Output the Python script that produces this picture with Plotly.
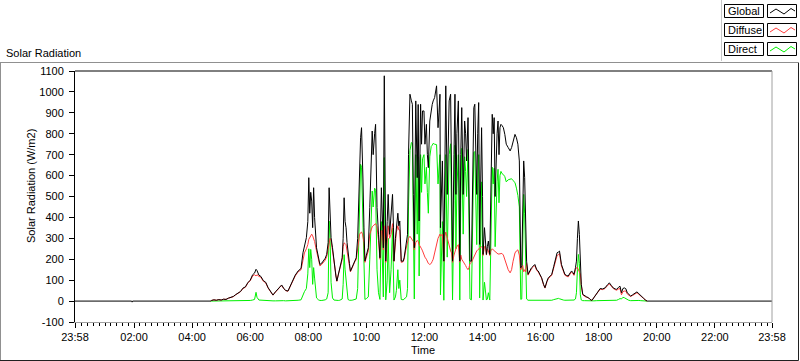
import plotly.graph_objects as go

PREV_DAY = "2023-12-31"
DAY = "2024-01-01"

# Night-time points of the Global trace (before sunrise)
night_times = ["23:58", "01:55", "01:56", "01:57"]
night_global = [0, 0, -5, 0]
end_time = "23:58"
end_global = 0

day_times = [
    "04:38", "04:40", "04:45", "04:50", "04:55", "05:00", "05:05", "05:10", "05:15", "05:20",
    "05:25", "05:30", "05:35", "05:40", "05:45", "05:50", "05:55", "06:00", "06:05", "06:09",
    "06:12", "06:14", "06:18", "06:22", "06:27", "06:32", "06:37", "06:42", "06:47", "06:52",
    "06:57", "07:02", "07:05", "07:09", "07:13", "07:18", "07:23", "07:28", "07:33", "07:39",
    "07:45", "07:49", "07:52", "07:56", "07:59", "08:01", "08:03", "08:05", "08:07", "08:09",
    "08:11", "08:13", "08:17", "08:21", "08:24", "08:28", "08:31", "08:35", "08:38", "08:41",
    "08:43", "08:45", "08:47", "08:50", "08:53", "08:55", "08:57", "08:59", "09:02", "09:05",
    "09:08", "09:10", "09:12", "09:14", "09:16", "09:18", "09:20", "09:22", "09:25", "09:27",
    "09:30", "09:32", "09:36", "09:39", "09:42", "09:44", "09:46", "09:48", "09:50", "09:52",
    "09:53", "09:55", "09:57", "10:00", "10:04", "10:07", "10:09", "10:12", "10:14", "10:15",
    "10:17", "10:19", "10:21", "10:22", "10:25", "10:28", "10:31", "10:33", "10:35", "10:37",
    "10:38", "10:40", "10:43", "10:45", "10:48", "10:51", "10:54", "10:56", "10:57", "11:00",
    "11:02", "11:05", "11:07", "11:09", "11:12", "11:16", "11:18", "11:21", "11:23", "11:25",
    "11:27", "11:30", "11:33", "11:35", "11:37", "11:39", "11:42", "11:45", "11:47", "11:49",
    "11:52", "11:54", "11:56", "11:59", "12:01", "12:04", "12:06", "12:08", "12:11", "12:14",
    "12:16", "12:18", "12:21", "12:25", "12:28", "12:30", "12:32", "12:33", "12:35", "12:37",
    "12:40", "12:42", "12:44", "12:47", "12:49", "12:51", "12:54", "12:56", "12:58", "13:01",
    "13:03", "13:05", "13:07", "13:10", "13:13", "13:15", "13:17", "13:20", "13:23", "13:25",
    "13:27", "13:30", "13:32", "13:34", "13:37", "13:40", "13:42", "13:44", "13:46", "13:48",
    "13:50", "13:52", "13:54", "13:56", "13:58", "14:00", "14:01", "14:04", "14:06", "14:08",
    "14:10", "14:12", "14:15", "14:17", "14:20", "14:22", "14:24", "14:26", "14:28", "14:30",
    "14:32", "14:34", "14:36", "14:38", "14:40", "14:43", "14:46", "14:49", "14:53", "14:57",
    "15:00", "15:03", "15:07", "15:10", "15:13", "15:16", "15:18", "15:19", "15:21", "15:23",
    "15:25", "15:27", "15:29", "15:31", "15:34", "15:38", "15:41", "15:45", "15:48", "15:52",
    "15:55", "15:59", "16:02", "16:06", "16:09", "16:13", "16:16", "16:20", "16:23", "16:27",
    "16:30", "16:34", "16:37", "16:39", "16:43", "16:47", "16:50", "16:54", "16:57", "17:01",
    "17:04", "17:07", "17:09", "17:12", "17:14", "17:16", "17:18", "17:20", "17:22", "17:24",
    "17:27", "17:31", "17:35", "17:39", "17:42", "17:46", "17:50", "17:56", "18:00", "18:03",
    "18:08", "18:13", "18:18", "18:22", "18:26", "18:30", "18:34", "18:37", "18:41", "18:44",
    "18:47", "18:50", "18:53", "18:56", "18:59", "19:02", "19:06", "19:10", "19:15", "19:19",
    "19:23", "19:27", "19:32", "19:36", "19:40",
]

global_day = [
    0, 3, 6, 4, 7, 5, 9, 8, 14, 19,
    22, 31, 40, 46, 62, 68, 88, 100, 126, 134,
    152, 146, 124, 118, 98, 90, 64, 45, 29, 44,
    56, 72, 77, 62, 51, 48, 76, 104, 124, 144,
    156, 231, 260, 303, 380, 590, 420, 520, 478, 351,
    542, 400, 255, 200, 175, 182, 191, 205, 223, 280,
    542, 420, 303, 255, 190, 175, 120, 96, 130, 159,
    190, 207, 300, 494, 380, 351, 280, 223, 180, 143,
    160, 175, 195, 207, 300, 510, 650, 781, 829, 700,
    574, 350, 191, 220, 255, 447, 600, 813, 700, 750,
    800, 845, 600, 447, 320, 207, 542, 400, 255, 1077,
    600, 191, 380, 510, 319, 420, 510, 350, 191, 300,
    351, 420, 360, 383, 191, 191, 207, 250, 271, 319,
    700, 989, 957, 941, 510, 255, 957, 590, 940, 383,
    941, 750, 909, 909, 750, 845, 700, 638, 861, 925,
    940, 957, 973, 1029, 829, 900, 989, 351, 500, 670,
    191, 700, 1029, 510, 800, 957, 989, 600, 191, 700,
    989, 510, 800, 957, 191, 700, 925, 510, 861, 800,
    670, 877, 500, 191, 191, 600, 925, 941, 700, 510,
    800, 949, 271, 600, 829, 500, 223, 351, 300, 223,
    260, 287, 223, 600, 893, 800, 877, 500, 670, 800,
    861, 700, 829, 845, 840, 829, 797, 750, 734, 718,
    734, 766, 797, 781, 750, 670, 300, 159, 170, 400,
    670, 590, 350, 191, 128, 150, 159, 168, 175, 150,
    144, 125, 112, 80, 64, 95, 112, 120, 128, 165,
    191, 231, 235, 239, 175, 150, 128, 122, 120, 135,
    144, 135, 128, 160, 191, 300, 383, 319, 159, 80,
    32, 24, 20, 16, 8, 3, 18, 40, 52, 60,
    58, 63, 78, 87, 75, 63, 58, 56, 66, 71,
    40, 60, 63, 59, 40, 32, 24, 30, 40, 44,
    35, 24, 15, 6, 0,
]

diffuse_day = [
    0, 3, 6, 4, 7, 5, 9, 8, 14, 18,
    21, 30, 39, 45, 60, 66, 86, 97, 120, 126,
    120, 126, 118, 114, 95, 87, 62, 44, 28, 43,
    54, 70, 74, 60, 50, 47, 74, 100, 120, 140,
    150, 195, 230, 250, 270, 295, 305, 315, 320, 312,
    300, 285, 240, 190, 168, 176, 184, 196, 212, 250,
    290, 300, 290, 245, 184, 170, 117, 94, 126, 154,
    184, 198, 260, 278, 275, 270, 240, 215, 174, 140,
    155, 170, 188, 198, 250, 300, 320, 327, 330, 320,
    310, 280, 185, 205, 240, 320, 340, 355, 360, 362,
    365, 370, 360, 355, 290, 200, 330, 340, 245, 360,
    360, 185, 330, 360, 300, 320, 370, 320, 190, 290,
    330, 360, 340, 340, 185, 188, 200, 240, 265, 280,
    300, 310, 300, 290, 285, 245, 280, 290, 285, 270,
    260, 250, 240, 220, 210, 200, 190, 180, 175, 180,
    190, 200, 230, 280, 300, 310, 320, 310, 315, 320,
    190, 310, 330, 300, 280, 260, 240, 230, 185, 220,
    240, 250, 260, 270, 186, 220, 200, 190, 175, 170,
    160, 150, 160, 180, 185, 200, 215, 225, 235, 240,
    245, 250, 255, 260, 260, 255, 218, 260, 265, 220,
    250, 240, 218, 240, 250, 245, 240, 235, 230, 228,
    225, 225, 225, 225, 228, 220, 200, 180, 150, 135,
    150, 190, 230, 240, 245, 220, 180, 150, 160, 170,
    140, 150, 140, 180, 124, 146, 154, 163, 170, 146,
    140, 122, 109, 78, 62, 92, 108, 116, 124, 158,
    182, 218, 222, 228, 168, 145, 124, 118, 116, 130,
    138, 130, 123, 150, 160, 160, 150, 140, 130, 75,
    30, 22, 19, 15, 8, 3, 17, 38, 50, 57,
    55, 60, 74, 82, 71, 60, 55, 52, 58, 60,
    30, 45, 48, 48, 34, 28, 22, 27, 36, 40,
    32, 22, 14, 6, 0,
]

direct_day = [
    0, 0, 0, 1, 0, 0, 0, 0, 0, 0,
    1, 1, 1, 1, 2, 2, 2, 3, 5, 8,
    42, 18, 5, 4, 3, 2, 2, 1, 1, 1,
    2, 2, 3, 2, 1, 1, 2, 3, 3, 4,
    6, 30, 45, 60, 130, 250, 160, 247, 200, 80,
    160, 110, 15, 6, 3, 3, 4, 6, 10, 40,
    383, 300, 90, 15, 5, 4, 3, 2, 3, 4,
    6, 10, 80, 222, 150, 110, 40, 8, 4, 3,
    4, 5, 6, 10, 60, 300, 480, 654, 640, 420,
    300, 80, 8, 12, 20, 200, 380, 526, 450, 500,
    540, 530, 350, 150, 40, 8, 380, 200, 20, 686,
    300, 6, 100, 300, 40, 150, 350, 80, 5, 20,
    50, 150, 60, 100, 8, 6, 10, 15, 20, 60,
    450, 720, 758, 754, 250, 10, 700, 320, 690, 120,
    700, 520, 680, 700, 560, 640, 520, 420, 690, 740,
    745, 754, 750, 748, 560, 640, 700, 30, 200, 380,
    4, 400, 700, 210, 520, 700, 752, 360, 6, 480,
    745, 250, 540, 700, 5, 480, 730, 320, 690, 620,
    500, 725, 330, 10, 6, 400, 710, 715, 460, 270,
    560, 700, 15, 340, 570, 240, 5, 90, 35, 5,
    10, 40, 5, 360, 640, 560, 635, 260, 440, 570,
    630, 470, 600, 620, 610, 605, 595, 570, 580, 585,
    585, 576, 567, 540, 505, 450, 100, 8, 10, 200,
    510, 420, 200, 10, 4, 4, 5, 5, 5, 4,
    4, 3, 3, 2, 2, 3, 4, 4, 4, 7,
    9, 13, 13, 11, 7, 5, 4, 4, 4, 5,
    6, 5, 5, 10, 40, 150, 223, 180, 30, 5,
    2, 2, 1, 1, 0, 0, 1, 2, 2, 3,
    3, 3, 4, 5, 4, 3, 3, 4, 8, 12,
    10, 18, 16, 12, 6, 4, 2, 3, 4, 4,
    3, 2, 1, 0, 0,
]

n = len(day_times)
if not (len(global_day) == n and len(diffuse_day) == n and len(direct_day) == n):
    raise ValueError(f"length mismatch {n} {len(global_day)} {len(diffuse_day)} {len(direct_day)}")

y_ticks = list(range(-100, 1101, 100))
x_tick_labels = ["23:58", "02:00", "04:00", "06:00", "08:00", "10:00", "12:00",
                 "14:00", "16:00", "18:00", "20:00", "22:00", "23:58"]

# ---- build x values ----
x_day = [f"{DAY} {t}" for t in day_times]
x_global = ([f"{PREV_DAY} {night_times[0]}"] + [f"{DAY} {t}" for t in night_times[1:]]
            + x_day + [f"{DAY} {end_time}"])
y_global = night_global + global_day + [end_global]

x_tickvals = [f"{PREV_DAY} 23:58"] + [f"{DAY} {t}" for t in x_tick_labels[1:-1]] + [f"{DAY} 23:58"]
minor_vals = [f"{DAY} {h:02d}:{m:02d}" for h in range(24) for m in range(0, 60, 12)]

FONT = "Liberation Sans, Arial, sans-serif"
BLACK = "#000000"
RED = "#ff3c3c"
GREEN = "#00f000"
GRAY = "#a0a0a0"

fig = go.Figure()
fig.add_trace(go.Scatter(x=x_day, y=direct_day, mode="lines", name="Direct",
                         line=dict(color=GREEN, width=1), showlegend=False, hoverinfo="skip"))
fig.add_trace(go.Scatter(x=x_day, y=diffuse_day, mode="lines", name="Diffuse",
                         line=dict(color=RED, width=1), showlegend=False, hoverinfo="skip"))
fig.add_trace(go.Scatter(x=x_global, y=y_global, mode="lines", name="Global",
                         line=dict(color=BLACK, width=1), showlegend=False, hoverinfo="skip"))

W, H = 800, 361
ML, MR, MT, MB = 75, 28, 71, 39
PW, PH = W - ML - MR, H - MT - MB


def px(x):
    return (x - ML) / PW


def py(y):
    return (H - MB - y) / PH


def line(x0, y0, x1, y1, color, width=1):
    return dict(type="line", xref="paper", yref="paper", x0=px(x0), y0=py(y0),
                x1=px(x1), y1=py(y1), line=dict(color=color, width=width), layer="above")


shapes = [
    line(ML, MT, W - MR, MT, BLACK),              # plot top border
    line(W - MR, MT, W - MR, H - MB, GRAY),       # plot right border
    line(0, 62.5, 798, 62.5, "#909090"),          # panel top
    line(0.5, 62.5, 0.5, 360, "#909090"),         # panel left
    line(798.5, 62.5, 798.5, 360.5, "#202020"),   # panel right
    line(0, 360.5, 798.5, 360.5, "#202020"),      # panel bottom
    line(721.5, 0, 721.5, 61, "#c8c8c8"),         # legend frame edge
]

legend_rows = [("Global", BLACK, 4.5, 17.5), ("Diffuse", RED, 23.5, 36.5), ("Direct", GREEN, 42.5, 55.5)]
annotations = []
for name, color, ytop, ybot in legend_rows:
    shapes.append(dict(type="rect", xref="paper", yref="paper", x0=px(724.5), x1=px(763.5),
                       y0=py(ybot), y1=py(ytop), line=dict(color=BLACK, width=1)))
    shapes.append(dict(type="rect", xref="paper", yref="paper", x0=px(767.5), x1=px(796.5),
                       y0=py(ybot), y1=py(ytop), line=dict(color=BLACK, width=1)))
    yc = (ytop + ybot) / 2
    pts = [(770, yc + 2), (776, yc - 2), (784, yc + 3), (791, yc - 2.5), (795, yc)]
    path = "M " + " L ".join(f"{px(a)},{py(b)}" for a, b in pts)
    shapes.append(dict(type="path", xref="paper", yref="paper", path=path,
                       line=dict(color=color, width=1)))
    annotations.append(dict(text=name, x=px(726), y=py(yc), xref="paper", yref="paper",
                            xanchor="left", yanchor="middle", showarrow=False,
                            font=dict(family=FONT, size=11, color=BLACK)))

annotations += [
    dict(text="Solar Radiation", x=px(4), y=py(52.5), xref="paper", yref="paper",
         xanchor="left", yanchor="middle", showarrow=False,
         font=dict(family=FONT, size=11, color=BLACK)),
    dict(text="Solar Radiation (W/m2)", x=px(31), y=py(186), xref="paper", yref="paper",
         xanchor="center", yanchor="middle", textangle=-90, showarrow=False,
         font=dict(family=FONT, size=11, color=BLACK)),
    dict(text="Time", x=px(423), y=py(350), xref="paper", yref="paper",
         xanchor="center", yanchor="middle", showarrow=False,
         font=dict(family=FONT, size=11, color=BLACK)),
]

fig.update_layout(
    width=W, height=H,
    margin=dict(l=ML, r=MR, t=MT, b=MB, pad=0),
    paper_bgcolor="white", plot_bgcolor="white",
    font=dict(family=FONT, size=11, color=BLACK),
    showlegend=False,
    shapes=shapes,
    annotations=annotations,
    xaxis=dict(
        type="date",
        range=[f"{PREV_DAY} 23:58", f"{DAY} 23:58"],
        tickmode="array", tickvals=x_tickvals, ticktext=x_tick_labels,
        ticks="outside", ticklen=5, tickwidth=1, tickcolor=BLACK,
        showline=True, linecolor=GRAY, linewidth=1,
        showgrid=False, zeroline=False,
        tickfont=dict(family=FONT, size=11, color=BLACK),
        minor=dict(tickmode="array", tickvals=minor_vals, ticks="outside",
                   ticklen=3, tickwidth=1, tickcolor=BLACK, showgrid=False),
        fixedrange=True,
    ),
    yaxis=dict(
        range=[-100, 1100],
        tickmode="array", tickvals=y_ticks, ticktext=[str(v) for v in y_ticks],
        ticks="outside", ticklen=5, tickwidth=1, tickcolor=BLACK,
        showline=True, linecolor=BLACK, linewidth=1,
        showgrid=False, zeroline=False,
        tickfont=dict(family=FONT, size=11, color=BLACK),
        ticklabelstandoff=3,
        fixedrange=True,
    ),
)

fig.write_html(
    "out.html",
    config={"displayModeBar": False, "responsive": False},
    post_script="document.body.style.margin='0';document.body.style.padding='0';",
)
